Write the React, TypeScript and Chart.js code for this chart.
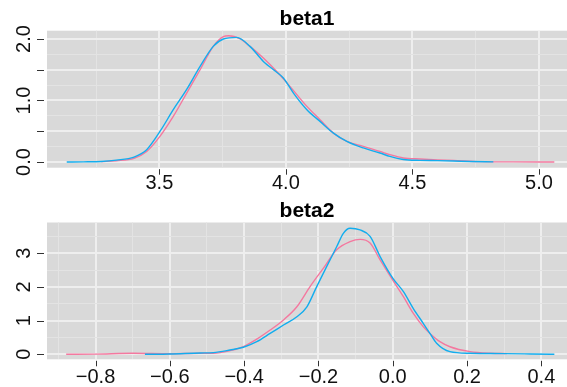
import React, { useEffect, useRef } from 'react';
import { Chart, registerables } from 'chart.js';

Chart.register(...registerables);

// ---------- beta1 ----------
const beta1PinkX = [3.27, 3.33, 3.4, 3.45, 3.503, 3.555, 3.608, 3.661, 3.713, 3.753, 3.773, 3.82, 3.858, 3.911, 3.964, 4.016, 4.083, 4.135, 4.188, 4.241, 4.306, 4.372, 4.411, 4.464, 4.53, 4.6, 4.662, 4.768, 4.9, 5.061];
const beta1PinkY = [0.005, 0.02, 0.06, 0.17, 0.42, 0.74, 1.12, 1.5, 1.88, 2.04, 2.054, 2.0, 1.88, 1.69, 1.47, 1.23, 0.904, 0.688, 0.47, 0.335, 0.254, 0.172, 0.119, 0.065, 0.049, 0.035, 0.026, 0.005, 0.001, 0];
const beta1BlueX = [3.134, 3.2, 3.27, 3.33, 3.4, 3.45, 3.503, 3.555, 3.608, 3.661, 3.713, 3.753, 3.806, 3.858, 3.911, 3.951, 3.99, 4.03, 4.083, 4.135, 4.188, 4.241, 4.306, 4.372, 4.411, 4.464, 4.53, 4.6, 4.662, 4.73, 4.82];
const beta1BlueY = [0, 0.002, 0.008, 0.03, 0.08, 0.2, 0.5, 0.85, 1.18, 1.555, 1.88, 2.0, 2.026, 1.88, 1.636, 1.5, 1.366, 1.12, 0.85, 0.66, 0.47, 0.335, 0.228, 0.146, 0.09, 0.04, 0.026, 0.022, 0.016, 0.008, 0.002];
const beta1XGrid = [3.25, 3.5, 3.75, 4.0, 4.25, 4.5, 4.75, 5.0];
const beta1XTicks = [3.5, 4.0, 4.5, 5.0];
const beta1YGrid = [0, 0.25, 0.5, 0.75, 1, 1.25, 1.5, 1.75, 2];
const beta1YTicks = [0, 0.5, 1, 1.5, 2];
const beta1YLabels = [0, 1, 2];

// ---------- beta2 ----------
const beta2PinkX = [-0.879, -0.8, -0.699, -0.6, -0.52, -0.483, -0.44, -0.402, -0.366, -0.33, -0.294, -0.258, -0.223, -0.187, -0.151, -0.115, -0.088, -0.061, -0.034, 0, 0.0287, 0.055, 0.082, 0.1, 0.127, 0.154, 0.208, 0.262, 0.307];
const beta2PinkY = [0, 0.005, 0.03, 0.015, 0.03, 0.03, 0.1, 0.23, 0.45, 0.72, 1.02, 1.41, 2.0, 2.55, 3.1, 3.34, 3.41, 3.3, 2.8, 2.2, 1.71, 1.22, 0.82, 0.62, 0.375, 0.225, 0.08, 0.03, 0.02];
const beta2BlueX = [-0.667, -0.6, -0.518, -0.483, -0.438, -0.402, -0.366, -0.33, -0.294, -0.258, -0.231, -0.205, -0.178, -0.151, -0.133, -0.115, -0.088, -0.061, -0.034, 0, 0.0287, 0.055, 0.082, 0.1, 0.118, 0.154, 0.208, 0.3, 0.37, 0.435];
const beta2BlueY = [0, 0.01, 0.04, 0.05, 0.128, 0.21, 0.375, 0.62, 0.87, 1.116, 1.41, 2.0, 2.6, 3.19, 3.59, 3.74, 3.69, 3.5, 2.9, 2.26, 1.86, 1.365, 0.92, 0.62, 0.33, 0.08, 0.03, 0.02, 0.01, 0];
const beta2XGrid = [-0.9, -0.8, -0.7, -0.6, -0.5, -0.4, -0.3, -0.2, -0.1, 0, 0.1, 0.2, 0.3, 0.4];
const beta2XTicks = [-0.8, -0.6, -0.4, -0.2, 0, 0.2, 0.4];
const beta2YGrid = [0, 0.5, 1, 1.5, 2, 2.5, 3, 3.5];
const beta2YTicks = [0, 1, 2, 3];
const beta2YLabels = [0, 1, 2, 3];

const PINK = '#F4789F';
const BLUE = '#12ADEE';
const FONT = "'Liberation Sans', Arial, Helvetica, sans-serif";
const W = 567;

const has = (arr: number[], v: number) => arr.some((a) => Math.abs(a - v) < 1e-6);
const fmt1 = (v: number) => (v < -1e-9 ? '\u2212' : '') + Math.abs(v).toFixed(1);

type PanelCfg = {
  title: string;
  pinkX: number[]; pinkY: number[]; blueX: number[]; blueY: number[];
  xMin: number; xMax: number; yMin: number; yMax: number;
  xGrid: number[]; xTicks: number[]; yGrid: number[]; yTicks: number[]; yLabels: number[];
  yFmt: (v: number) => string;
  height: number; titleTop: number; titleBottom: number; xAxisH: number;
  yPad: number; xPad: number;
};

const panels: PanelCfg[] = [
  {
    title: 'beta1',
    pinkX: beta1PinkX, pinkY: beta1PinkY, blueX: beta1BlueX, blueY: beta1BlueY,
    xMin: 3.056, xMax: 5.111, yMin: -0.093, yMax: 2.135,
    xGrid: beta1XGrid, xTicks: beta1XTicks, yGrid: beta1YGrid, yTicks: beta1YTicks, yLabels: beta1YLabels,
    yFmt: (v) => v.toFixed(1),
    height: 193, titleTop: 7.2, titleBottom: 0.4, xAxisH: 25.3, yPad: 9, xPad: 3.5,
  },
  {
    title: 'beta2',
    pinkX: beta2PinkX, pinkY: beta2PinkY, blueX: beta2BlueX, blueY: beta2BlueY,
    xMin: -0.9306, xMax: 0.469, yMin: -0.148, yMax: 3.91,
    xGrid: beta2XGrid, xTicks: beta2XTicks, yGrid: beta2YGrid, yTicks: beta2YTicks, yLabels: beta2YLabels,
    yFmt: (v) => String(Math.round(v)),
    height: 194, titleTop: 6.4, titleBottom: 0, xAxisH: 27.7, yPad: 17.4, xPad: 6.5,
  },
];

const bgPlugin = {
  id: 'panelBg',
  beforeDraw(chart: any) {
    const { ctx, chartArea } = chart;
    ctx.save();
    ctx.fillStyle = '#D9D9D9';
    ctx.fillRect(chartArea.left, chartArea.top, chartArea.right - chartArea.left, chartArea.bottom - chartArea.top);
    ctx.restore();
  },
};

const tickPlugin = {
  id: 'tickMarks',
  afterDraw(chart: any, _args: any, opts: any) {
    const { ctx, chartArea, scales } = chart;
    ctx.save();
    ctx.strokeStyle = '#333333';
    ctx.lineWidth = 1;
    ctx.beginPath();
    for (const v of opts.yTicks as number[]) {
      const y = Math.round(scales.y.getPixelForValue(v)) + 0.5;
      ctx.moveTo(chartArea.left - 10, y);
      ctx.lineTo(chartArea.left - 3, y);
    }
    for (const v of opts.xTicks as number[]) {
      const x = Math.round(scales.x.getPixelForValue(v)) + 0.5;
      ctx.moveTo(x, chartArea.bottom + 1.5);
      ctx.lineTo(x, chartArea.bottom + 7);
    }
    ctx.stroke();
    ctx.restore();
  },
};

function Panel({ cfg }: { cfg: PanelCfg }) {
  const ref = useRef<HTMLCanvasElement>(null);
  useEffect(() => {
    const c = cfg;
    const toPts = (xs: number[], ys: number[]) => xs.map((x, i) => ({ x, y: ys[i] }));
    const chart = new Chart(ref.current as HTMLCanvasElement, {
      type: 'line',
      data: {
        datasets: [
          {
            label: 'chain 2',
            data: toPts(c.blueX, c.blueY),
            borderColor: BLUE,
            borderWidth: 1.4,
            pointRadius: 0,
            cubicInterpolationMode: 'monotone',
            fill: false,
          },
          {
            label: 'chain 1',
            data: toPts(c.pinkX, c.pinkY),
            borderColor: PINK,
            borderWidth: 1.4,
            pointRadius: 0,
            cubicInterpolationMode: 'monotone',
            fill: false,
          },
        ],
      } as any,
      options: {
        responsive: false,
        animation: false,
        devicePixelRatio: 1,
        layout: { padding: 0 },
        events: [],
        plugins: {
          legend: { display: false },
          tooltip: { enabled: false },
          title: {
            display: true,
            text: c.title,
            fullSize: false,
            color: '#000000',
            font: { family: FONT, size: 21, weight: 'bold', lineHeight: 1.1 },
            padding: { top: c.titleTop, bottom: c.titleBottom },
          },
          tickMarks: { xTicks: c.xTicks, yTicks: c.yTicks },
        } as any,
        scales: {
          x: {
            type: 'linear',
            min: c.xMin,
            max: c.xMax,
            bounds: 'data',
            afterBuildTicks: (s: any) => { s.ticks = c.xGrid.map((v) => ({ value: v })); },
            afterFit: (s: any) => { s.height = c.xAxisH; s.paddingLeft = 0; s.paddingRight = 0; },
            border: { display: false },
            grid: {
              drawTicks: false,
              color: (ctx: any) => (has(c.xTicks, ctx.tick?.value) ? '#EEEEEE' : '#E3E3E3'),
              lineWidth: (ctx: any) => (has(c.xTicks, ctx.tick?.value) ? 2 : 1),
            },
            ticks: {
              autoSkip: false,
              maxRotation: 0,
              minRotation: 0,
              padding: c.xPad,
              color: '#111111',
              font: { family: FONT, size: 20 },
              callback: (v: any) => (has(c.xTicks, Number(v)) ? fmt1(Number(v)) : ''),
            },
          },
          y: {
            type: 'linear',
            min: c.yMin,
            max: c.yMax,
            bounds: 'data',
            afterBuildTicks: (s: any) => { s.ticks = c.yGrid.map((v) => ({ value: v })); },
            afterFit: (s: any) => { s.width = 47; s.paddingTop = 0; s.paddingBottom = 0; },
            border: { display: false },
            grid: {
              drawTicks: false,
              color: (ctx: any) => (has(c.yTicks, ctx.tick?.value) ? '#EEEEEE' : '#E3E3E3'),
              lineWidth: (ctx: any) => (has(c.yTicks, ctx.tick?.value) ? 2 : 1),
            },
            ticks: {
              autoSkip: false,
              minRotation: 90,
              maxRotation: 90,
              crossAlign: 'center',
              padding: c.yPad,
              color: '#111111',
              font: { family: FONT, size: 20 },
              callback: (v: any) => (has(c.yLabels, Number(v)) ? c.yFmt(Number(v)) : ''),
            },
          },
        } as any,
      },
      plugins: [bgPlugin, tickPlugin],
    });
    return () => chart.destroy();
  }, [cfg]);
  return (
    <canvas
      ref={ref}
      width={W}
      height={cfg.height}
      style={{ display: 'block', width: W, height: cfg.height }}
    />
  );
}

export default function App() {
  return (
    <div style={{ position: 'fixed', left: 0, top: 0, width: W, height: 387, background: '#ffffff' }}>
      {panels.map((p) => (
        <Panel key={p.title} cfg={p} />
      ))}
    </div>
  );
}
